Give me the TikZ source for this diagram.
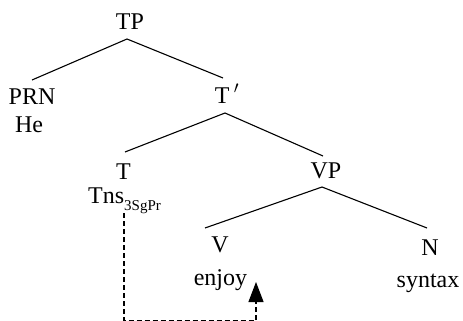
\documentclass[tikz,border=0pt]{standalone}
\usepackage{fontspec}
\setmainfont{Liberation Serif}
\usetikzlibrary{arrows.meta}
\begin{document}
\begin{tikzpicture}[x=1pt,y=-1pt,
  lab/.style={anchor=base,inner sep=0pt,font=\fontsize{24}{26}\selectfont},
  branch/.style={line width=1.1pt},
  trace/.style={line width=1.1pt,dash pattern=on 5pt off 3pt}]
\useasboundingbox (0,0) rectangle (463,321);
\node[lab] (TP) at (130,30) {TP};
\node[lab] (PRN) at (32,104) {PRN};
\node[lab] (He) at (29,132) {He};
\node[lab] (Tbar) at (227,103) {T$\,'$};
\node[lab] (T) at (123.5,179) {T};
\node[lab,anchor=base west] (Tns) at (88,203) {Tns\raisebox{-7pt}{\fontsize{15}{16}\selectfont 3SgPr}};
\node[lab] (VP) at (326,178) {VP};
\node[lab] (V) at (220,252) {V};
\node[lab] (enjoy) at (220.5,285) {enjoy};
\node[lab] (N) at (430,255) {N};
\node[lab] (syntax) at (428,287) {syntax};
\coordinate (TPb) at (127,39);
\coordinate (PRNt) at (32,80);
\coordinate (Tbart) at (223,78);
\coordinate (Tbarb) at (225,113);
\coordinate (Tt) at (125,152);
\coordinate (VPt) at (323,156);
\coordinate (VPb) at (322,187);
\coordinate (Vt) at (205,228);
\coordinate (Nt) at (427,228);
\draw[branch] (TPb) -- (PRNt);
\draw[branch] (TPb) -- (Tbart);
\draw[branch] (Tbarb) -- (Tt);
\draw[branch] (Tbarb) -- (VPt);
\draw[branch] (VPb) -- (Vt);
\draw[branch] (VPb) -- (Nt);
\coordinate (d0) at (124,213);
\coordinate (d1) at (124,320.5);
\coordinate (d2) at (256,320.5);
\coordinate (tip) at (256,282);
\draw[trace,-{Triangle[width=15pt,length=20pt]}] (d0) -- (d1) -- (d2) -- (tip);
\end{tikzpicture}
\end{document}
